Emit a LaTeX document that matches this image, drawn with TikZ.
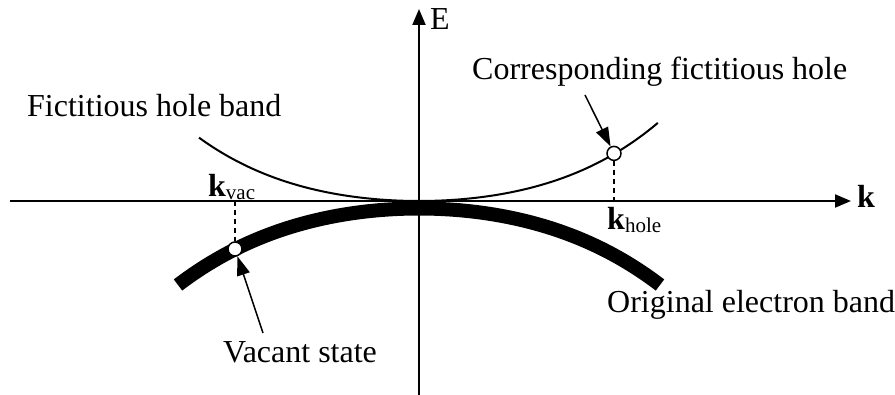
\documentclass[tikz,border=0pt]{standalone}
\usepackage{fontspec}
\setmainfont{Liberation Serif}
\usetikzlibrary{arrows.meta}
\begin{document}
\begin{tikzpicture}[x=1pt,y=-1pt,
  lbl/.style={inner sep=0pt, font=\fontsize{32}{38}\selectfont},
  axisline/.style={line width=2pt, -{Triangle[length=16pt,width=13pt]}},
  pointer/.style={line width=1.5pt, -{Triangle[length=19pt,width=13pt]}},
  guide/.style={line width=1.5pt, dash pattern=on 5pt off 4pt},
  stateC/.style={circle, draw, line width=1.5pt, fill=white, minimum size=14pt, inner sep=0pt}]
\useasboundingbox (0,0) rectangle (895,395);
% axes
\coordinate (xl) at (10,201);
\coordinate (xr) at (851,201);
\coordinate (yb) at (419,395);
\coordinate (yt) at (419,9);
\draw[axisline] (xl) -- (xr);
\draw[axisline] (yb) -- (yt);
% original electron band (thick)
\draw[line width=14pt] plot[domain=-2.41:2.41, samples=150]
  ({419+100*\x},{208.5+10.5*\x*\x+0.46*\x*\x*\x*\x});
% fictitious hole band (thin)
\draw[line width=2pt] plot[domain=-2.2:2.39, samples=150]
  ({419+100*\x},{201-(9.7*\x*\x+0.7*\x*\x*\x*\x)});
% states
\coordinate (vacax) at (235,201);
\coordinate (holeax) at (614,201);
\node[stateC] (vac) at (235,249) {};
\node[stateC] (hole) at (614,153.4) {};
\draw[guide] (vacax) -- (vac.north);
\draw[guide] (hole.south) -- (holeax);
% labels
\node[lbl, anchor=base west] (fhb) at (27,117) {Fictitious hole band};
\node[lbl, anchor=base west] (cfh) at (472,80) {Corresponding fictitious hole};
\node[lbl, anchor=base west] (vs) at (223,363) {Vacant state};
\node[lbl, anchor=base west] (oeb) at (607,313) {Original electron band};
\node[lbl, anchor=base west] (E) at (430,30) {E};
\node[lbl, anchor=base west] (kax) at (857,208) {\textbf{k}};
\node[lbl, anchor=base west] (kvac) at (208,197) {\textbf{k}\raisebox{-3pt}{\fontsize{21}{24}\selectfont vac}};
\node[lbl, anchor=base west] (khole) at (607,230) {\textbf{k}\raisebox{-3pt}{\fontsize{21}{24}\selectfont hole}};
% pointers
\coordinate (cft) at (585,95);
\coordinate (vst) at (263,333);
\draw[pointer] (cft) -- (hole);
\draw[pointer] (vst) -- (vac);
\end{tikzpicture}
\end{document}
